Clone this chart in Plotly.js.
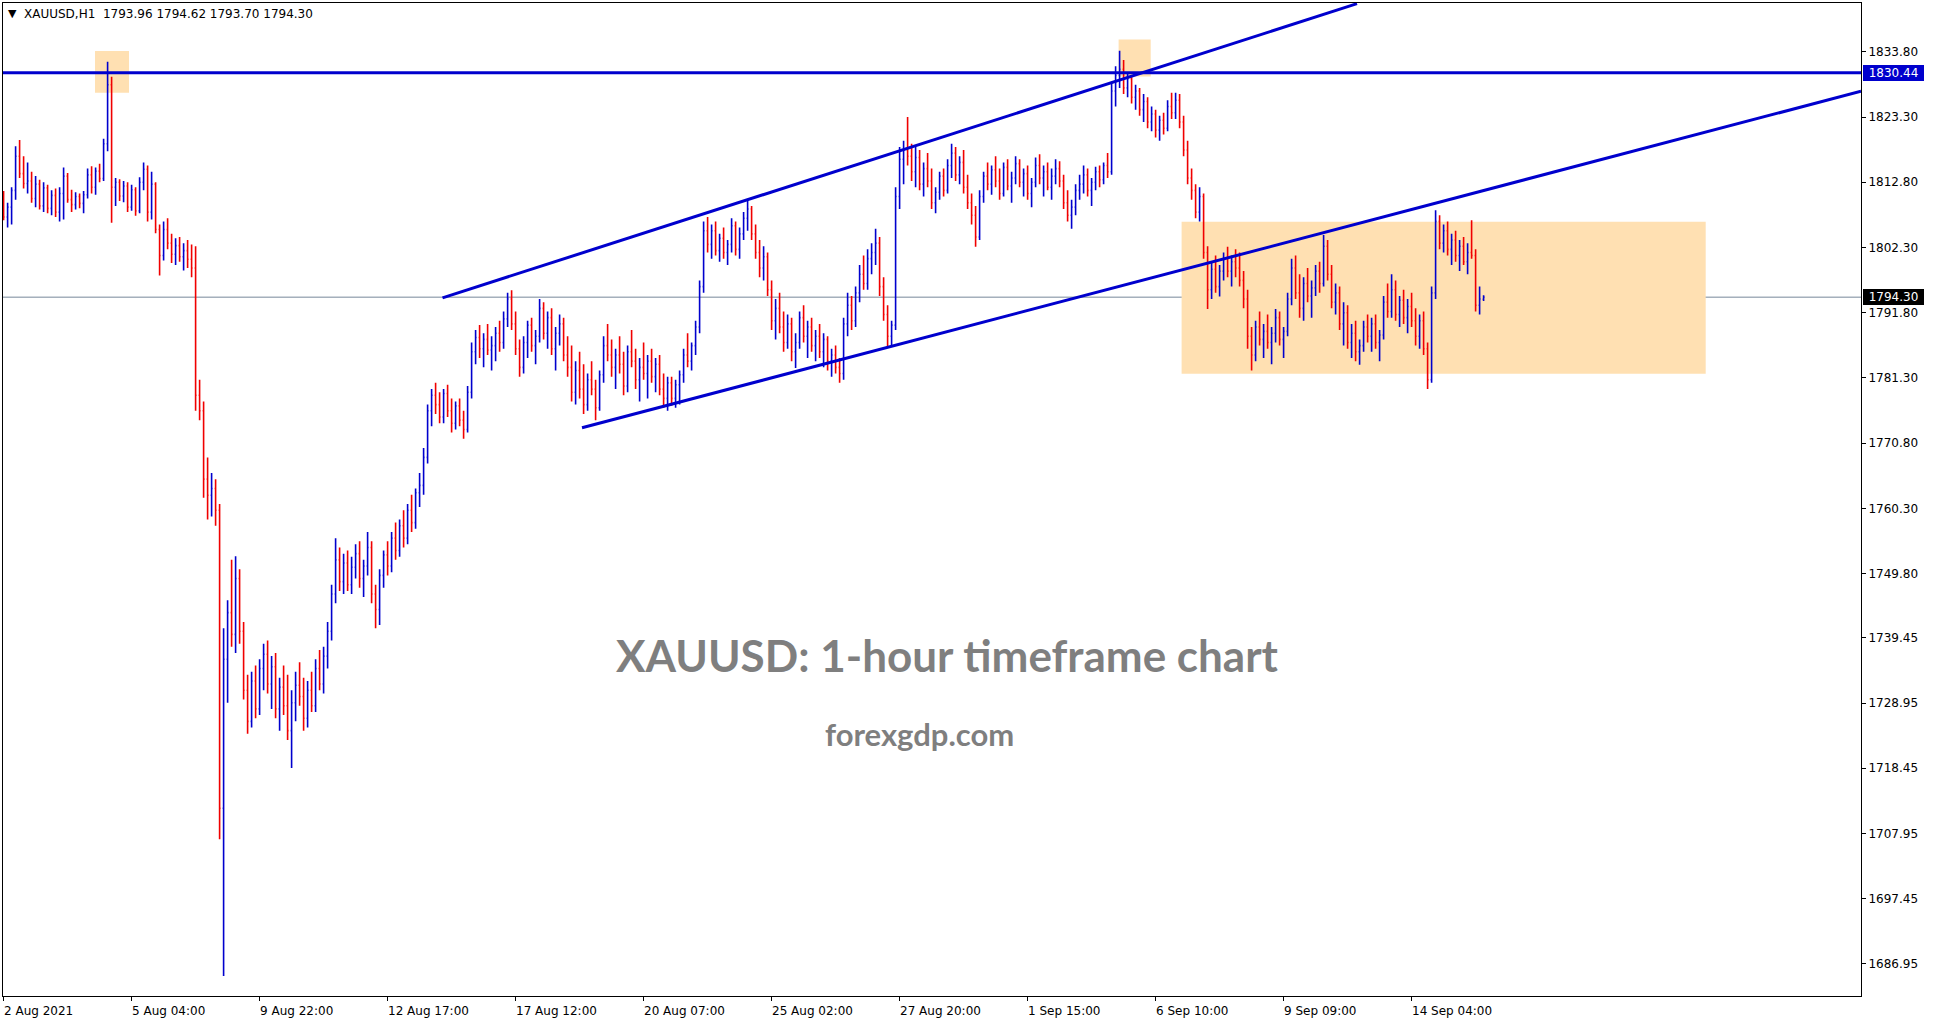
<!DOCTYPE html>
<html><head><meta charset="utf-8">
<script src="https://cdn.plot.ly/plotly-3.0.1.min.js"></script>
<style>html,body{margin:0;padding:0;background:#fff;overflow:hidden}#chart{width:1933px;height:1023px}</style>
</head><body><div id="chart"></div>
<script>
// ---- data: XAUUSD H1 (each entry ~2 hourly bars) ----
const barOpen = [
1810.0,1807.2,1808.8,1811.5,1817.0,1814.2,1812.6,1813.0,1810.2,1812.5,
1809.0,1811.9,1808.6,1810.7,1808.0,1811.0,1813.8,1810.0,1809.2,1810.5,
1809.4,1810.8,1814.0,1812.0,1814.6,1813.4,1819.0,1828.5,1812.0,1812.8,
1810.6,1812.2,1808.8,1811.6,1808.2,1812.8,1814.9,1808.0,1812.5,1805.2,
1801.0,1805.2,1803.0,1801.2,1802.6,1800.8,1801.8,1800.4,1799.0,1778.5,
1776.0,1765.0,1762.4,1763.5,1760.0,1712.0,1736.0,1743.5,1740.0,1749.0,
1740.5,1731.0,1726.0,1732.5,1728.0,1734.5,1736.8,1732.0,1734.8,1728.0,
1731.5,1728.5,1724.5,1729.0,1731.8,1730.0,1726.5,1731.0,1728.5,1734.5,
1732.0,1736.5,1740.5,1746.5,1752.0,1748.5,1751.5,1748.0,1750.8,1753.0,
1749.0,1751.0,1754.0,1746.5,1744.0,1749.5,1752.8,1751.0,1755.5,1753.5,
1757.5,1755.5,1760.0,1758.0,1762.8,1764.0,1768.5,1776.0,1778.5,1777.0,
1775.0,1778.8,1776.0,1774.0,1776.8,1774.5,1773.0,1779.0,1785.5,1787.8,
1786.0,1787.5,1785.8,1786.5,1788.5,1787.0,1790.8,1794.0,1790.0,1786.0,
1783.0,1787.0,1789.8,1786.5,1788.0,1792.5,1788.5,1791.0,1786.0,1788.5,
1790.0,1785.0,1783.0,1779.0,1782.5,1779.5,1777.0,1781.0,1779.5,1776.5,
1781.8,1786.5,1785.0,1783.0,1785.0,1783.5,1780.0,1785.5,1784.0,1781.0,
1783.0,1782.0,1784.0,1781.5,1783.5,1779.5,1778.0,1780.5,1778.0,1780.2,
1781.8,1785.0,1784.0,1786.5,1789.5,1796.0,1805.0,1802.8,1805.0,1801.8,
1803.8,1801.5,1802.8,1805.8,1802.0,1804.5,1807.0,1808.5,1804.5,1801.5,
1799.0,1800.8,1795.5,1790.5,1792.5,1789.5,1787.0,1790.0,1785.5,1787.0,
1791.0,1788.0,1789.5,1786.5,1788.0,1785.5,1787.5,1784.0,1785.0,1783.0,
1782.0,1790.0,1793.0,1790.5,1795.0,1798.0,1796.5,1800.5,1801.5,1803.0,
1796.0,1791.5,1788.0,1789.8,1810.5,1816.5,1818.0,1817.0,1814.5,1816.8,
1812.5,1815.0,1813.0,1809.5,1811.2,1813.8,1811.5,1815.5,1817.5,1814.0,
1816.0,1812.0,1809.5,1807.5,1804.0,1810.5,1813.8,1812.5,1814.8,1813.0,
1811.0,1815.2,1812.2,1813.5,1815.8,1812.8,1814.2,1811.0,1812.8,1815.5,
1813.5,1814.5,1812.0,1813.8,1815.0,1813.0,1809.5,1807.5,1808.8,1811.5,
1812.5,1814.0,1811.5,1812.8,1814.5,1813.2,1815.5,1814.5,1827.5,1830.0,
1831.0,1828.0,1829.5,1826.5,1827.5,1824.5,1825.8,1822.5,1823.8,1821.2,
1822.8,1821.5,1825.0,1824.0,1826.0,1822.5,1818.0,1813.5,1811.5,1808.0,
1810.5,1801.5,1795.5,1798.8,1796.0,1798.5,1800.5,1798.5,1800.0,1799.0,
1797.0,1794.0,1788.0,1785.0,1789.5,1787.5,1788.8,1787.0,1788.5,1791.0,
1787.5,1788.8,1794.0,1799.0,1795.0,1792.5,1796.5,1794.5,1795.8,1798.5,
1796.5,1802.5,1798.0,1793.5,1795.0,1790.0,1791.8,1787.0,1788.5,1785.5,
1786.5,1789.5,1788.0,1790.0,1787.0,1788.2,1793.5,1792.0,1795.5,1791.5,
1793.8,1791.0,1792.8,1790.5,1788.0,1790.5,1786.0,1781.0,1795.0,1806.5,
1803.0,1805.0,1802.0,1803.5,1801.0,1802.5,1800.0,1801.5,1801.0,1793.0,
1793.96];
const barHigh = [
1811.4,1809.5,1812.0,1818.6,1819.6,1817.0,1816.0,1814.5,1813.8,1813.2,
1812.8,1812.4,1811.5,1811.8,1812.0,1815.2,1814.3,1811.6,1811.2,1811.0,
1811.4,1815.0,1815.4,1815.2,1815.8,1819.8,1832.2,1829.8,1813.5,1813.3,
1813.0,1812.8,1812.4,1812.0,1813.6,1816.0,1815.5,1814.5,1812.8,1806.0,
1806.5,1807.0,1804.5,1803.8,1804.0,1803.0,1803.5,1802.8,1802.5,1781.0,
1777.5,1768.5,1766.0,1765.0,1761.0,1741.0,1745.5,1752.0,1752.6,1750.5,
1742.0,1733.5,1734.0,1735.0,1736.0,1738.5,1739.0,1736.5,1737.0,1733.0,
1735.0,1733.5,1731.0,1734.0,1735.5,1733.0,1732.5,1734.0,1736.0,1737.5,
1738.0,1742.0,1748.0,1755.5,1754.0,1753.0,1753.5,1752.5,1754.5,1755.0,
1752.0,1756.5,1755.0,1748.0,1750.5,1753.5,1755.0,1756.5,1758.0,1758.5,
1760.0,1761.0,1762.5,1763.5,1766.0,1770.0,1777.0,1779.5,1780.5,1779.0,
1779.5,1780.2,1778.0,1777.5,1778.0,1776.0,1780.0,1787.0,1789.0,1789.8,
1788.5,1790.0,1788.0,1789.5,1790.5,1792.0,1795.0,1795.4,1792.0,1787.5,
1788.0,1790.5,1791.0,1789.0,1794.0,1793.5,1792.0,1792.5,1789.5,1791.5,
1791.0,1788.0,1786.5,1784.0,1785.5,1783.5,1782.0,1784.0,1781.0,1782.5,
1788.0,1790.0,1787.5,1786.0,1788.0,1785.5,1786.5,1789.0,1786.0,1784.5,
1787.0,1785.0,1786.0,1784.5,1785.0,1782.0,1781.5,1781.5,1781.0,1782.5,
1786.0,1788.5,1787.0,1790.5,1797.0,1806.5,1807.2,1806.0,1806.5,1804.5,
1805.5,1803.5,1807.0,1806.5,1805.5,1808.0,1809.9,1809.0,1806.0,1803.5,
1802.5,1801.5,1797.0,1794.0,1795.0,1792.0,1791.5,1791.0,1788.5,1792.0,
1793.0,1790.5,1791.0,1789.0,1790.0,1788.5,1788.0,1786.0,1786.5,1784.5,
1791.0,1795.0,1794.5,1796.0,1799.5,1801.0,1802.0,1803.0,1805.3,1804.0,
1797.5,1793.0,1790.5,1812.0,1818.5,1819.5,1823.3,1819.0,1818.5,1818.0,
1816.0,1817.5,1815.0,1812.0,1814.5,1815.0,1816.5,1819.0,1818.5,1817.0,
1818.0,1814.0,1811.0,1809.0,1811.5,1814.5,1816.0,1815.5,1817.0,1815.0,
1816.0,1816.5,1814.5,1817.0,1816.5,1815.0,1815.5,1813.5,1816.8,1817.3,
1815.5,1816.0,1815.0,1816.5,1816.2,1814.0,1811.5,1810.0,1812.5,1814.0,
1815.5,1815.0,1813.5,1815.3,1815.5,1816.0,1817.5,1829.0,1831.5,1834.0,
1832.5,1830.5,1830.0,1828.5,1828.0,1827.0,1826.5,1825.0,1824.5,1823.5,
1824.0,1826.0,1827.2,1827.2,1827.0,1823.5,1819.5,1815.0,1812.5,1812.0,
1811.0,1802.5,1800.0,1801.0,1799.5,1801.5,1802.4,1801.0,1802.0,1801.5,
1798.5,1795.5,1789.5,1790.5,1792.0,1790.0,1791.5,1789.5,1792.4,1792.0,
1789.5,1795.0,1800.5,1801.0,1798.0,1797.5,1799.0,1797.0,1799.5,1800.0,
1804.3,1803.5,1799.5,1796.5,1796.0,1793.5,1793.0,1790.0,1790.5,1787.5,
1790.5,1791.5,1791.0,1791.5,1789.0,1794.5,1796.5,1798.0,1797.0,1794.5,
1795.5,1794.0,1795.0,1792.5,1791.5,1792.0,1787.0,1796.0,1808.3,1807.5,
1806.0,1806.5,1804.5,1805.0,1803.5,1804.0,1803.0,1806.7,1802.0,1796.0,
1794.62];
const barLow = [
1806.7,1805.5,1806.0,1810.0,1813.5,1811.8,1811.0,1809.5,1808.8,1808.4,
1808.0,1807.8,1807.5,1807.2,1806.5,1806.8,1809.5,1808.0,1808.4,1808.6,
1807.8,1810.2,1811.0,1810.8,1812.8,1813.0,1817.8,1806.3,1809.0,1809.8,
1809.6,1808.0,1808.2,1807.4,1807.8,1811.5,1806.5,1806.8,1804.6,1797.8,
1800.2,1802.0,1799.8,1799.5,1800.0,1798.6,1799.0,1797.5,1776.0,1774.5,
1762.0,1758.5,1759.0,1757.5,1707.0,1685.0,1729.0,1738.0,1737.0,1738.5,
1729.5,1724.0,1725.0,1726.5,1727.0,1731.0,1730.5,1728.0,1726.5,1724.5,
1727.0,1723.0,1718.5,1726.0,1728.5,1724.5,1725.0,1727.5,1727.5,1731.0,
1730.5,1734.5,1739.0,1745.0,1747.0,1746.5,1747.0,1746.5,1749.0,1747.5,
1746.0,1749.5,1745.0,1741.0,1741.5,1747.5,1749.5,1750.0,1752.0,1752.5,
1754.0,1754.5,1756.5,1757.0,1760.5,1762.5,1767.5,1773.5,1775.5,1774.0,
1774.0,1775.0,1772.5,1773.0,1773.5,1771.5,1772.5,1778.0,1783.5,1784.5,
1783.0,1785.0,1782.5,1784.0,1785.5,1786.0,1789.5,1789.0,1785.0,1781.5,
1782.0,1784.5,1785.5,1783.5,1787.0,1787.5,1786.0,1785.0,1782.5,1786.5,
1784.0,1781.5,1777.5,1777.0,1778.0,1775.5,1776.0,1778.5,1774.5,1776.0,
1780.5,1784.0,1781.5,1779.5,1782.0,1778.5,1779.0,1783.0,1779.5,1777.5,
1781.0,1778.0,1780.5,1779.0,1778.5,1776.5,1776.0,1776.8,1776.5,1777.0,
1780.5,1783.0,1782.5,1785.0,1788.5,1795.0,1801.5,1800.5,1801.0,1800.0,
1800.5,1799.5,1801.5,1801.0,1800.5,1803.5,1805.0,1803.5,1800.5,1797.5,
1797.0,1794.5,1789.0,1787.5,1788.5,1785.5,1786.0,1784.0,1782.9,1786.0,
1787.0,1784.5,1785.5,1784.0,1784.5,1783.0,1782.5,1781.5,1782.0,1780.5,
1781.0,1788.0,1789.0,1789.5,1793.5,1795.5,1795.5,1798.0,1799.5,1794.5,
1790.5,1786.2,1786.5,1789.0,1808.5,1812.5,1815.5,1813.0,1812.0,1811.5,
1810.5,1812.0,1808.5,1807.8,1810.0,1810.5,1811.0,1813.5,1813.0,1812.5,
1811.0,1808.5,1806.0,1802.4,1803.5,1809.5,1811.5,1810.8,1812.0,1810.0,
1810.5,1811.5,1809.5,1812.5,1812.0,1810.5,1810.0,1808.8,1812.0,1812.5,
1810.5,1811.5,1810.0,1812.5,1812.0,1808.5,1806.5,1805.3,1807.5,1810.0,
1811.0,1810.5,1809.0,1811.5,1812.0,1812.5,1813.5,1814.0,1825.0,1828.0,
1827.0,1826.5,1825.5,1824.5,1823.5,1822.5,1821.5,1821.0,1820.0,1819.5,
1820.5,1821.0,1823.0,1823.0,1821.5,1817.0,1812.5,1810.0,1807.0,1806.5,
1800.5,1792.4,1794.0,1795.0,1794.4,1797.0,1797.5,1796.0,1797.5,1796.0,
1792.5,1786.0,1782.5,1784.0,1786.5,1784.5,1786.0,1783.5,1787.0,1786.5,
1784.5,1788.0,1793.0,1794.0,1791.0,1790.5,1793.5,1791.0,1794.5,1795.0,
1796.0,1797.0,1792.5,1791.5,1789.0,1786.5,1786.0,1784.5,1784.0,1783.4,
1785.5,1787.0,1785.5,1786.0,1784.0,1787.5,1791.0,1791.0,1790.5,1789.5,
1790.0,1788.5,1789.5,1786.5,1786.0,1785.0,1779.5,1780.5,1794.0,1802.0,
1801.5,1801.0,1799.5,1800.0,1798.5,1799.5,1798.0,1800.5,1792.0,1791.5,
1793.70];
const barClose = [
1807.2,1808.8,1811.5,1817.0,1814.2,1812.6,1813.0,1810.2,1812.5,1809.0,
1811.9,1808.6,1810.7,1808.0,1811.0,1813.8,1810.0,1809.2,1810.5,1809.4,
1810.8,1814.0,1812.0,1814.6,1813.4,1819.0,1828.5,1812.0,1812.8,1810.6,
1812.2,1808.8,1811.6,1808.2,1812.8,1814.9,1808.0,1812.5,1805.2,1801.0,
1805.2,1803.0,1801.2,1802.6,1800.8,1801.8,1800.4,1799.0,1778.5,1776.0,
1765.0,1762.4,1763.5,1760.0,1712.0,1736.0,1743.5,1740.0,1749.0,1740.5,
1731.0,1726.0,1732.5,1728.0,1734.5,1736.8,1732.0,1734.8,1728.0,1731.5,
1728.5,1724.5,1729.0,1731.8,1730.0,1726.5,1731.0,1728.5,1734.5,1732.0,
1736.5,1740.5,1746.5,1752.0,1748.5,1751.5,1748.0,1750.8,1753.0,1749.0,
1751.0,1754.0,1746.5,1744.0,1749.5,1752.8,1751.0,1755.5,1753.5,1757.5,
1755.5,1760.0,1758.0,1762.8,1764.0,1768.5,1776.0,1778.5,1777.0,1775.0,
1778.8,1776.0,1774.0,1776.8,1774.5,1773.0,1779.0,1785.5,1787.8,1786.0,
1787.5,1785.8,1786.5,1788.5,1787.0,1790.8,1794.0,1790.0,1786.0,1783.0,
1787.0,1789.8,1786.5,1788.0,1792.5,1788.5,1791.0,1786.0,1788.5,1790.0,
1785.0,1783.0,1779.0,1782.5,1779.5,1777.0,1781.0,1779.5,1776.5,1781.8,
1786.5,1785.0,1783.0,1785.0,1783.5,1780.0,1785.5,1784.0,1781.0,1783.0,
1782.0,1784.0,1781.5,1783.5,1779.5,1778.0,1780.5,1778.0,1780.2,1781.8,
1785.0,1784.0,1786.5,1789.5,1796.0,1805.0,1802.8,1805.0,1801.8,1803.8,
1801.5,1802.8,1805.8,1802.0,1804.5,1807.0,1808.5,1804.5,1801.5,1799.0,
1800.8,1795.5,1790.5,1792.5,1789.5,1787.0,1790.0,1785.5,1787.0,1791.0,
1788.0,1789.5,1786.5,1788.0,1785.5,1787.5,1784.0,1785.0,1783.0,1782.0,
1790.0,1793.0,1790.5,1795.0,1798.0,1796.5,1800.5,1801.5,1803.0,1796.0,
1791.5,1788.0,1789.8,1810.5,1816.5,1818.0,1817.0,1814.5,1816.8,1812.5,
1815.0,1813.0,1809.5,1811.2,1813.8,1811.5,1815.5,1817.5,1814.0,1816.0,
1812.0,1809.5,1807.5,1804.0,1810.5,1813.8,1812.5,1814.8,1813.0,1811.0,
1815.2,1812.2,1813.5,1815.8,1812.8,1814.2,1811.0,1812.8,1815.5,1813.5,
1814.5,1812.0,1813.8,1815.0,1813.0,1809.5,1807.5,1808.8,1811.5,1812.5,
1814.0,1811.5,1812.8,1814.5,1813.2,1815.5,1814.5,1827.5,1830.0,1831.0,
1828.0,1829.5,1826.5,1827.5,1824.5,1825.8,1822.5,1823.8,1821.2,1822.8,
1821.5,1825.0,1824.0,1826.0,1822.5,1818.0,1813.5,1811.5,1808.0,1810.5,
1801.5,1795.5,1798.8,1796.0,1798.5,1800.5,1798.5,1800.0,1799.0,1797.0,
1794.0,1788.0,1785.0,1789.5,1787.5,1788.8,1787.0,1788.5,1791.0,1787.5,
1788.8,1794.0,1799.0,1795.0,1792.5,1796.5,1794.5,1795.8,1798.5,1796.5,
1802.5,1798.0,1793.5,1795.0,1790.0,1791.8,1787.0,1788.5,1785.5,1786.5,
1789.5,1788.0,1790.0,1787.0,1788.2,1793.5,1792.0,1795.5,1791.5,1793.8,
1791.0,1792.8,1790.5,1788.0,1790.5,1786.0,1781.0,1795.0,1806.5,1803.0,
1805.0,1802.0,1803.5,1801.0,1802.5,1800.0,1801.5,1801.0,1793.0,1794.0,
1794.30];

const hoursPerEntry = 2;                       // each entry spans 2 hourly slots
const xTickHours  = [0,64,128,192,256,320,384,448,512,576,640,704];
const xTickLabels = ['2 Aug 2021','5 Aug 04:00','9 Aug 22:00','12 Aug 17:00','17 Aug 12:00','20 Aug 07:00',
                     '25 Aug 02:00','27 Aug 20:00','1 Sep 15:00','6 Sep 10:00','9 Sep 09:00','14 Sep 04:00'];
const yTickVals = [1833.80,1823.30,1812.80,1802.30,1791.80,1781.30,1770.80,1760.30,1749.80,
                   1739.45,1728.95,1718.45,1707.95,1697.45,1686.95];
const resistanceLevel = 1830.44;
const lastPrice = 1794.30;
const headerText = 'XAUUSD,H1\u00a0\u00a01793.96 1794.62 1793.70 1794.30';
const upperChannel = {x:[219.45, 676.7], y:[1794.19, 1841.56]};
const lowerChannel = {x:[289.2, 928.7], y:[1773.28, 1827.46]};
const highlightBoxes = [
  {x0:45.7,  x1:62.7,   y0:1827.23, y1:1833.94},
  {x0:557.5, x1:573.55, y0:1829.82, y1:1835.8},
  {x0:589.0, x1:851.05, y0:1781.98, y1:1806.46}
];
const chartTitle = 'XAUUSD: 1-hour timeframe chart';
const siteName = 'forexgdp.com';

// ---- chart ----
const BLUE = '#0000CD', RED = '#F00000', ORANGE = '#FFE0B2';
const xs = barClose.map((_, i) => i * hoursPerEntry);
const F = 'DejaVu Sans';

const trace = {
  type: 'ohlc', x: xs, open: barOpen, high: barHigh, low: barLow, close: barClose,
  increasing: {line: {color: BLUE, width: 1.6}},
  decreasing: {line: {color: RED, width: 1.6}},
  tickwidth: 0.25, hoverinfo: 'skip', showlegend: false
};

const shapes = [];
highlightBoxes.forEach(b => shapes.push({type:'rect', xref:'x', yref:'y', x0:b.x0, x1:b.x1, y0:b.y0, y1:b.y1,
  fillcolor: ORANGE, line:{width:0}, layer:'below'}));
shapes.push({type:'line', xref:'paper', yref:'y', x0:0, x1:1, y0:lastPrice, y1:lastPrice,
  line:{color:'#778899', width:1}, layer:'below'});
shapes.push({type:'line', xref:'paper', yref:'y', x0:0, x1:1, y0:resistanceLevel, y1:resistanceLevel,
  line:{color:BLUE, width:3}});
[upperChannel, lowerChannel].forEach(c => shapes.push({type:'line', xref:'x', yref:'y',
  x0:c.x[0], x1:c.x[1], y0:c.y[0], y1:c.y[1], line:{color:BLUE, width:3}}));

const annotations = [];
xTickHours.forEach((h, i) => annotations.push({xref:'x', yref:'paper', x:h, y:0, xanchor:'left', yanchor:'top',
  yshift:-6, xshift:-2, text:xTickLabels[i], showarrow:false, font:{family:F, size:12, color:'#000'}}));
annotations.push({xref:'paper', yref:'y', x:1, y:resistanceLevel, xanchor:'left', yanchor:'middle', xshift:2,
  text:resistanceLevel.toFixed(2), showarrow:false, bgcolor:BLUE, borderpad:1, borderwidth:0, width:59,
  font:{family:F, size:12, color:'#fff'}});
annotations.push({xref:'paper', yref:'y', x:1, y:lastPrice, xanchor:'left', yanchor:'middle', xshift:2,
  text:lastPrice.toFixed(2), showarrow:false, bgcolor:'#000', borderpad:1, borderwidth:0, width:59,
  font:{family:F, size:12, color:'#fff'}});
annotations.push({xref:'paper', yref:'paper', x:0, y:1, xanchor:'center', yanchor:'middle', xshift:9, yshift:-10,
  text:'\u25BC', showarrow:false, font:{family:F, size:11, color:'#000'}});
annotations.push({xref:'paper', yref:'paper', x:0, y:1, xanchor:'left', yanchor:'middle', xshift:19, yshift:-11,
  text:headerText, showarrow:false, font:{family:F, size:12, color:'#000'}});
annotations.push({xref:'paper', yref:'paper', x:0.5086, y:0.3434, xanchor:'center', yanchor:'middle',
  text:'<b>'+chartTitle+'</b>', showarrow:false, font:{family:'Lato', size:44, color:'#7F7F7F'}});
annotations.push({xref:'paper', yref:'paper', x:0.4935, y:0.2636, xanchor:'center', yanchor:'middle',
  text:'<b>'+siteName+'</b>', showarrow:false, font:{family:'Lato', size:31, color:'#7F7F7F'}});

const layout = {
  width:1933, height:1023, margin:{l:3, r:72, t:3, b:27},
  paper_bgcolor:'#fff', plot_bgcolor:'#fff', showlegend:false, hovermode:false,
  xaxis:{range:[-0.3, 928.7], tickvals:xTickHours, showticklabels:false, ticks:'outside', ticklen:4,
    tickcolor:'#000', showgrid:false, zeroline:false, showline:true, mirror:true, linecolor:'#000', linewidth:1,
    rangeslider:{visible:false}, fixedrange:true},
  yaxis:{range:[1681.77, 1841.67], side:'right', tickvals:yTickVals, ticktext:yTickVals.map(v=>v.toFixed(2)),
    ticks:'outside', ticklen:4, tickcolor:'#000', showgrid:false, zeroline:false, showline:true, mirror:true,
    linecolor:'#000', linewidth:1, tickfont:{family:F, size:12, color:'#000'}, fixedrange:true},
  shapes, annotations
};
Plotly.newPlot('chart', [trace], layout, {displayModeBar:false, staticPlot:true});
</script></body></html>
